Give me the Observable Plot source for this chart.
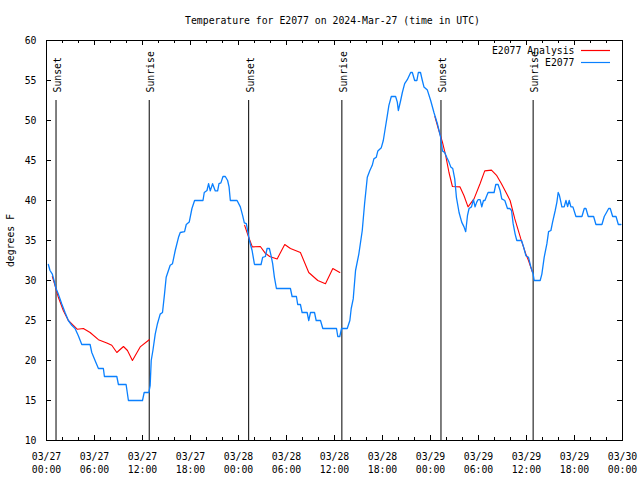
<!DOCTYPE html>
<html>
<head>
<meta charset="utf-8">
<script src="https://cdn.jsdelivr.net/npm/d3@7"></script>
<script src="https://cdn.jsdelivr.net/npm/@observablehq/plot@0.6"></script>
<style>
  html, body { margin: 0; padding: 0; background: white; }
</style>
</head>
<body>
<div id="chart"></div>
<script>
// ---- data (hours since 03/27 00:00 UTC, degrees F) ----
const titleText = "Temperature for E2077 on 2024-Mar-27 (time in UTC)";
const yLabel = "degrees F";

const xTicks = [0, 6, 12, 18, 24, 30, 36, 42, 48, 54, 60, 66, 72];
const dateLabels = ["03/27","03/27","03/27","03/27","03/28","03/28","03/28","03/28","03/29","03/29","03/29","03/29","03/30"];
const timeLabels = ["00:00","06:00","12:00","18:00","00:00","06:00","12:00","18:00","00:00","06:00","12:00","18:00","00:00"];
const xMinorTicks = [2,4,8,10,14,16,20,22,26,28,32,34,38,40,44,46,50,52,56,58,62,64,68,70];
const yTicks = [10, 15, 20, 25, 30, 35, 40, 45, 50, 55, 60];

const sunHours = [1.19, 12.84, 25.27, 36.92, 49.31, 60.83];
const sunLabels = ["Sunset", "Sunrise", "Sunset", "Sunrise", "Sunset", "Sunrise"];

const seriesNames = ["E2077 Analysis", "E2077"];
const seriesColors = ["#ff0000", "#0a80ff"];

const obsHours = [0.23,0.44,0.73,0.94,1.19,1.48,1.9,2.32,2.73,3.16,3.57,3.98,4.41,5.45,5.66,6.07,6.49,7.11,7.24,8.79,8.99,9.95,10.24,12.0,12.21,12.8,12.96,13.09,13.3,13.59,13.87,14.21,14.5,14.75,14.96,15.46,15.75,16.09,16.5,16.72,17.26,17.47,17.84,18.18,18.51,19.56,19.72,20.06,20.26,20.47,20.76,21.1,21.39,21.56,21.8,22.06,22.35,22.64,22.82,22.98,23.82,24.23,24.52,24.73,24.98,25.14,25.36,25.7,25.98,26.02,26.82,27.02,27.36,27.57,27.86,28.07,28.27,28.49,28.74,30.49,30.7,31.24,31.4,31.74,31.95,32.58,32.78,33.0,33.5,33.71,34.25,34.54,36.25,36.41,36.66,36.88,37.59,37.92,38.09,38.34,38.63,39.04,39.47,39.76,40.1,40.42,40.72,40.92,41.22,41.42,41.85,42.1,42.3,42.6,42.8,43.1,43.64,43.85,43.98,44.27,44.48,44.77,45.1,45.52,45.73,46.02,46.3,46.48,46.75,46.98,47.18,47.61,48.02,48.43,48.86,49.27,49.49,49.77,50.03,50.31,50.53,50.78,51.03,51.24,51.57,51.9,52.19,52.4,52.62,52.82,53.12,53.37,53.57,53.78,53.94,54.2,54.41,54.62,54.8,55.03,55.2,55.95,56.16,56.45,56.7,56.91,57.29,57.62,57.91,58.13,58.33,58.58,58.79,59.38,59.63,59.92,60.25,60.54,60.83,60.96,61.71,61.92,62.21,62.55,62.76,63.05,63.26,63.59,63.8,63.96,64.1,64.3,64.42,64.71,64.93,65.14,65.34,65.55,65.8,66.18,66.93,67.22,67.43,67.72,68.39,68.68,69.43,69.72,70.0,70.27,70.47,70.77,71.19,71.48,71.8];
const obsTemps = [32,31.25,30.8,30,29,28.3,27.1,26,25,24.4,24,23.1,22,22,21,20,19,19,18,18,17,17,15,15,16,16,16.9,20,21.25,23.3,24.6,25.8,26,28.3,30.4,31.9,32.1,33.75,35.4,36,36.1,37,37.3,39,40,40,41,41.25,42.1,41.2,42.1,41.2,41.2,42.1,42.2,43,43,42.5,41.7,40,40,39.2,38.1,37.2,37.1,36.25,35,33.75,32.1,32,32,32.9,33,34,34,33.1,32.1,30.4,29,29,28,28,27,27,26,26,25,26,26,25,25,24,24,23,23,24,24,25,26.5,27.7,31.25,33.3,36.25,39.6,42.9,43.75,44.4,45.2,45.4,46.2,46.6,47.5,48.75,50.6,51.9,53,53,52.3,51.25,52.5,53.5,54.6,55.1,56,56,55,55,56,56,55,54.2,53.8,52.5,51,49.6,47.9,46.2,46,45.4,44.8,44.2,44,42.7,40.4,38.5,37.3,36.7,36.1,38.1,39,39.2,40.1,39.2,39.8,40.1,40.1,39.2,40,40,40.6,41,41,42,42,41.25,40.2,40,39,39,38.75,37.1,35.8,35,35,34.2,33.1,32.9,31.7,30.8,30,30,30.8,32.9,34.6,36.1,36.25,37.3,38.75,39.8,41,40.7,39.8,39.2,39.2,40,39.25,40,39.2,39.2,38,38,39,39,38,38,37,37,38,38.5,39,39,38,38,37,37];

const anaSegment = [1,1,1,1,1,1,1,1,1,1,1,1,1,1,1,1,1,1, 2,2,2,2,2,2,2,2,2,2,2,2,2,2,2, 3,3,3,3,3,3,3,3,3,3,3,3,3,3,3,3,3,3,3,3,3,3];
const anaHours = [0.73,1.06,1.48,2.10,2.73,3.36,3.86,4.61,5.45,6.49,7.54,8.16,8.79,9.62,10.12,10.74,11.71,12.84,
  24.77,25.27,25.73,26.73,27.36,27.90,28.83,29.78,30.49,31.74,32.78,33.91,34.87,35.79,36.66,
  48.55,48.97,49.49,49.9,50.31,50.74,51.69,52.19,52.69,53.44,54.19,54.78,55.62,56.29,56.87,57.54,57.95,58.54,59.29,59.92,60.25,60.76];
const anaTemps = [30.5,29.4,27.9,26.25,25,24.4,23.9,24.0,23.5,22.6,22.2,21.9,21.0,21.75,21.25,20,21.7,22.6,
  36.9,35.4,34.2,34.25,33.4,33,32.7,34.5,34.0,33.5,31.0,30,29.6,31.5,31,
  50.5,49,47.3,45.6,43.5,41.75,41.7,40.6,39.2,40.2,42.1,43.7,43.8,43.1,42.1,40.8,40,37.7,35.2,33.3,32.5,31.0];

// ---- tables built from the arrays ----
const obs = obsHours.map((h, i) => ({h, t: obsTemps[i]}));
const ana = anaHours.map((h, i) => ({h, t: anaTemps[i], seg: anaSegment[i]}));
const sun = sunHours.map((h, i) => ({h, label: sunLabels[i]}));

const W = 640, H = 480;
const mL = 46, mR = 18, mT = 40, mB = 40;
const plotW = W - mL - mR, plotH = H - mT - mB;
const major = 5, minor = 3;
const legendRowY = [10.5, 22.5];

const legendSwatches = (index, scales, values, dims) => {
  const g = d3.create("svg:g");
  const xr = dims.width - dims.marginRight;
  seriesColors.forEach((c, i) => {
    const y = dims.marginTop + legendRowY[i];
    g.append("line")
      .attr("x1", xr - 41).attr("x2", xr - 12)
      .attr("y1", y).attr("y2", y)
      .attr("stroke", c).attr("stroke-width", 1.2);
  });
  return g.node();
};

const chart = Plot.plot({
  width: W, height: H,
  marginLeft: mL, marginRight: mR, marginTop: mT, marginBottom: mB,
  style: {fontFamily: "'DejaVu Sans Mono', monospace", fontSize: "9.8px", background: "white", color: "black"},
  x: {domain: [0, 72], axis: null},
  y: {domain: [10, 60], axis: null},
  marks: [
    // sunrise / sunset markers
    Plot.ruleX(sun, {x: "h", y1: 10, y2: 52.5, stroke: "black", strokeWidth: 1}),
    Plot.text(sun, {x: "h", text: "label", frameAnchor: "top", dy: 52, dx: 2, rotate: -90, textAnchor: "start", lineAnchor: "middle", fill: "black"}),
    // series
    Plot.line(ana, {x: "h", y: "t", z: "seg", stroke: seriesColors[0], strokeWidth: 1.1}),
    Plot.line(obs, {x: "h", y: "t", stroke: seriesColors[1], strokeWidth: 1.3}),
    // frame
    Plot.frame({stroke: "black"}),
    // inward ticks
    Plot.ruleX(xTicks, {x: d => d, insetTop: plotH - major, stroke: "black"}),
    Plot.ruleX(xTicks, {x: d => d, insetBottom: plotH - major, stroke: "black"}),
    Plot.ruleX(xMinorTicks, {x: d => d, insetTop: plotH - minor, stroke: "black"}),
    Plot.ruleX(xMinorTicks, {x: d => d, insetBottom: plotH - minor, stroke: "black"}),
    Plot.ruleY(yTicks, {y: d => d, insetRight: plotW - major, stroke: "black"}),
    Plot.ruleY(yTicks, {y: d => d, insetLeft: plotW - major, stroke: "black"}),
    // axis labels
    Plot.axisX({ticks: xTicks, tickSize: 0, tickPadding: 10, lineHeight: 1.37,
      tickFormat: d => dateLabels[xTicks.indexOf(d)] + "\n" + timeLabels[xTicks.indexOf(d)], label: null, fill: "black"}),
    Plot.axisY({ticks: yTicks, tickSize: 0, tickPadding: 10, tickFormat: d => String(d), label: null, fill: "black"}),
    Plot.text([yLabel], {frameAnchor: "left", dx: -36, rotate: -90, textAnchor: "middle", lineAnchor: "middle", fill: "black"}),
    // title
    Plot.text([titleText], {frameAnchor: "top", dy: -20, dx: -2, lineAnchor: "middle", fill: "black"}),
    // legend
    Plot.text([seriesNames[0]], {frameAnchor: "top-right", dx: -48, dy: legendRowY[0], fill: "black", textAnchor: "end", lineAnchor: "middle"}),
    Plot.text([seriesNames[1]], {frameAnchor: "top-right", dx: -48, dy: legendRowY[1], fill: "black", textAnchor: "end", lineAnchor: "middle"}),
    legendSwatches
  ]
});
document.getElementById("chart").appendChild(chart);
</script>
</body>
</html>
